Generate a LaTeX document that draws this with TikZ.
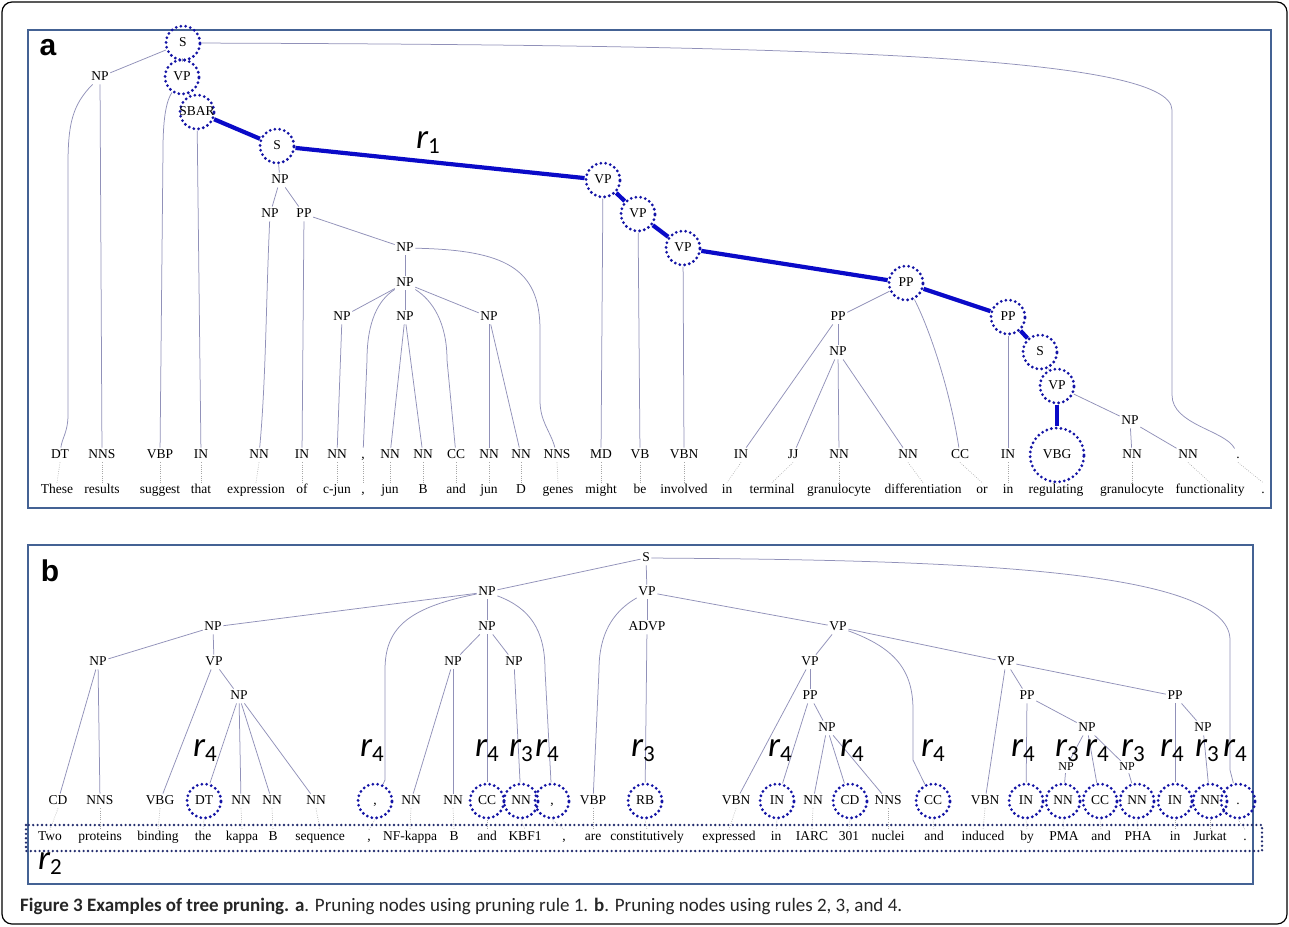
\documentclass[tikz,border=0pt]{standalone}
\usepackage{fontspec}
\setmainfont{Liberation Serif}
\newfontfamily\capfont{Carlito}
\newfontfamily\panelfont{Liberation Sans}

\definecolor{linecol}{RGB}{145,145,185}
\definecolor{pathcol}{RGB}{10,10,200}
\definecolor{prunecol}{RGB}{20,20,165}
\definecolor{panelcol}{RGB}{68,98,148}
\definecolor{boxcol}{RGB}{35,45,110}

\newcommand{\rlab}[1]{{\fontsize{35}{35}\selectfont\itshape r}\raisebox{-5pt}{\fontsize{23}{23}\selectfont #1}}

\begin{document}
\begin{tikzpicture}[x = 1pt, y = -1pt,
	lbl/.style = {inner sep = 1.5pt, text height = 9pt, text depth = 2.5pt, font = \fontsize{13.5}{14}\selectfont},
	small/.style = {inner sep = 1pt, text height = 8pt, text depth = 2pt, font = \fontsize{12}{13}\selectfont},
	pruned/.style = {lbl, circle, inner sep = 0pt, minimum size = 34pt, draw = prunecol, line width = 3.1pt, dash pattern = on 0pt off 4.8pt, line cap = round},
	bigpruned/.style = {pruned, minimum size = 54pt},
	tline/.style = {draw = linecol, line width = 0.75pt},
	rpath/.style = {draw = pathcol, line width = 4.2pt},
	wline/.style = {draw = gray!70, line width = 0.6pt, dash pattern = on 0.7pt off 1.5pt},
	panel/.style = {draw = panelcol, line width = 1.6pt},
	rmark/.style = {inner sep = 0pt, font = \capfont}]

	% Frame and panels

		\path[fill = white] (0, 0) rectangle (1289, 926);
		\draw[line width = 1.2pt, rounded corners = 10pt] (2, 2) rectangle (1287, 924);
		\draw[panel] (28, 30) rectangle (1271, 508);
		\draw[panel] (28, 545) rectangle (1253, 884);

		\node (la) [font = \panelfont\bfseries\fontsize{30}{30}\selectfont] at (48, 48) {a};
		\node (lb) [font = \panelfont\bfseries\fontsize{30}{30}\selectfont] at (50, 571) {b};

	% Panel a

		% Phrase nodes

		\node (as1) [pruned] at (183, 43) {S};
		\node (anp1) [lbl] at (100, 77) {NP};
		\node (avp1) [pruned] at (182, 77) {VP};
		\node (asbar) [pruned] at (197, 112) {\makebox[16pt]{SBAR}};
		\node (as2) [pruned] at (277, 146) {S};
		\node (anp2) [lbl] at (280, 180) {NP};
		\node (anp3) [lbl] at (270, 214) {NP};
		\node (app1) [lbl] at (304, 214) {PP};
		\node (anp4) [lbl] at (405, 248) {NP};
		\node (anp5) [lbl] at (405, 283) {NP};
		\node (anp6) [lbl] at (342, 317) {NP};
		\node (anp7) [lbl] at (405, 317) {NP};
		\node (anp8) [lbl] at (489, 317) {NP};
		\node (avp2) [pruned] at (603, 180) {VP};
		\node (avp3) [pruned] at (638, 214) {VP};
		\node (avp4) [pruned] at (683, 248) {VP};
		\node (app2) [pruned] at (906, 283) {PP};
		\node (app3) [lbl] at (838, 317) {PP};
		\node (anp9) [lbl] at (838, 352) {NP};
		\node (app4) [pruned] at (1008, 317) {PP};
		\node (as3) [pruned] at (1040, 352) {S};
		\node (avp5) [pruned] at (1057, 386) {VP};
		\node (anp10) [lbl] at (1130, 421) {NP};

		% Tags and words

		\foreach \x/\t/\s [count = \n] in {60/DT/lbl, 102/NNS/lbl, 160/VBP/lbl, 201/IN/lbl, 259/NN/lbl, 302/IN/lbl, 337/NN/lbl, 363/{,}/lbl, 390/NN/lbl, 423/NN/lbl, 456/CC/lbl, 489/NN/lbl, 521/NN/lbl, 557/NNS/lbl, 601/MD/lbl, 640/VB/lbl, 684/VBN/lbl, 741/IN/lbl, 793/JJ/lbl, 839/NN/lbl, 908/NN/lbl, 960/CC/lbl, 1008/IN/lbl, 1057/VBG/bigpruned, 1132/NN/lbl, 1188/NN/lbl, 1238/./lbl}
			\node (at\n) [\s] at (\x, 455) {\t};

		\foreach \x/\w [count = \n] in {57/These, 102/results, 160/suggest, 201/that, 256/expression, 302/of, 337/c-jun, 363/{,}, 390/jun, 423/B, 456/and, 489/jun, 521/D, 558/genes, 601/might, 640/be, 684/involved, 727/in, 772/terminal, 839/granulocyte, 923/differentiation, 982/or, 1008/in, 1056/regulating, 1132/granulocyte, 1210/functionality, 1263/.}
			\node (aw\n) [lbl] at (\x, 490) {\w};

		\foreach \n in {1, ..., 27}
			\draw[wline] (at\n.south) -- (aw\n.north);

		% Edges

		\foreach \p/\c in {as1/anp1, as1/avp1, anp1/at2, avp1/asbar, asbar/at4, as2/anp2, anp2/anp3, anp2/app1, app1/at6, app1/anp4, anp4/anp5, anp5/anp6, anp5/anp7, anp5/anp8, anp6/at7, anp7/at9, anp7/at10, anp8/at12, anp8/at13, avp2/at15, avp3/at16, avp4/at17, app2/app3, app3/at18, app3/anp9, anp9/at19, anp9/at20, anp9/at21, app4/at23, as3/avp5, avp5/anp10, anp10/at25, anp10/at26}
			\draw[tline] (\p) -- (\c);

		\draw[tline] (anp1) .. controls (72, 105) and (68, 125) .. (68, 165) -- (68, 415) .. controls (68, 432) and (62, 438) .. (at1);
		\draw[tline] (avp1) .. controls (167, 100) and (163, 115) .. (163, 150) -- (at3);
		\draw[tline] (anp3) .. controls (266, 300) and (266, 380) .. (at5);
		\draw[tline] (anp4) .. controls (505, 250) and (540, 268) .. (540, 330) -- (540, 400) .. controls (540, 422) and (550, 430) .. (at14);
		\draw[tline] (anp5) .. controls (378, 300) and (367, 322) .. (367, 360) -- (at8);
		\draw[tline] (anp5) .. controls (432, 300) and (447, 322) .. (447, 360) -- (at11);
		\draw[tline] (app2) .. controls (930, 330) and (950, 390) .. (at22);
		\draw[tline] (as1) .. controls (800, 45) and (1172, 55) .. (1172, 110) -- (1172, 395) .. controls (1172, 425) and (1225, 430) .. (at27);

		% Pruning path of rule 1

		\foreach \p/\c in {asbar/as2, as2/avp2, avp2/avp3, avp3/avp4, avp4/app2, app2/app4, app4/as3, avp5/at24}
			\draw[rpath] (\p) -- (\c);

		\node (r1) [rmark] at (428, 143) {\rlab{1}};

	% Panel b

		% Phrase nodes

		\node (bs) [lbl] at (646, 558) {S};
		\node (bnp1) [lbl] at (487, 592) {NP};
		\node (bvp1) [lbl] at (647, 592) {VP};
		\node (bnp2) [lbl] at (213, 627) {NP};
		\node (bnp3) [lbl] at (487, 627) {NP};
		\node (badvp) [lbl] at (647, 627) {ADVP};
		\node (bvp2) [lbl] at (838, 627) {VP};
		\node (bnp4) [lbl] at (98, 662) {NP};
		\node (bvp3) [lbl] at (214, 662) {VP};
		\node (bnp5) [lbl] at (453, 662) {NP};
		\node (bnp6) [lbl] at (514, 662) {NP};
		\node (bvp4) [lbl] at (810, 662) {VP};
		\node (bvp5) [lbl] at (1006, 662) {VP};
		\node (bnp7) [lbl] at (239, 696) {NP};
		\node (bpp1) [lbl] at (810, 696) {PP};
		\node (bpp2) [lbl] at (1027, 696) {PP};
		\node (bpp3) [lbl] at (1175, 696) {PP};
		\node (bnp8) [lbl] at (827, 728) {NP};
		\node (bnp9) [lbl] at (1087, 728) {NP};
		\node (bnp10) [lbl] at (1203, 728) {NP};
		\node (bnp11) [small] at (1066, 767) {NP};
		\node (bnp12) [small] at (1127, 767) {NP};

		% Tags and words

		\foreach \x/\t/\s [count = \n] in {58/CD/lbl, 100/NNS/lbl, 160/VBG/lbl, 204/DT/pruned, 241/NN/lbl, 272/NN/lbl, 316/NN/lbl, 375/{,}/pruned, 411/NN/lbl, 453/NN/lbl, 487/CC/pruned, 521/NN/pruned, 552/{,}/pruned, 593/VBP/lbl, 645/RB/pruned, 736/VBN/lbl, 777/IN/pruned, 813/NN/lbl, 850/CD/pruned, 888/NNS/lbl, 933/CC/pruned, 985/VBN/lbl, 1026/IN/pruned, 1063/NN/pruned, 1100/CC/pruned, 1137/NN/pruned, 1175/IN/pruned, 1210/NN/pruned, 1238/./pruned}
			\node (bt\n) [\s] at (\x, 801) {\t};

		\foreach \x/\w [count = \n] in {50/Two, 100/proteins, 158/binding, 203/the, 242/kappa, 273/B, 320/sequence, 369/{,}, 410/NF-kappa, 454/B, 487/and, 525/KBF1, 564/{,}, 593/are, 647/constitutively, 729/expressed, 776/in, 812/IARC, 849/301, 888/nuclei, 934/and, 983/induced, 1027/by, 1064/PMA, 1101/and, 1138/PHA, 1175/in, 1210/Jurkat, 1245/.}
			\node (bw\n) [lbl] at (\x, 837) {\w};

		\foreach \n in {1, ..., 29}
			\draw[wline] (bt\n.south) -- (bw\n.north);

		% Edges

		\foreach \p/\c in {bs/bnp1, bs/bvp1, bnp1/bnp2, bnp1/bnp3, bnp2/bnp4, bnp2/bvp3, bnp4/bt1, bnp4/bt2, bvp3/bt3, bvp3/bnp7, bnp7/bt4, bnp7/bt5, bnp7/bt6, bnp7/bt7, bnp3/bnp5, bnp3/bnp6, bnp3/bt11, bnp5/bt9, bnp5/bt10, bnp6/bt12, bvp1/badvp, bvp1/bvp2, badvp/bt15, bvp2/bvp4, bvp2/bvp5, bvp4/bt16, bvp4/bpp1, bpp1/bt17, bpp1/bnp8, bnp8/bt18, bnp8/bt19, bnp8/bt20, bvp5/bt22, bvp5/bpp2, bvp5/bpp3, bpp2/bt23, bpp2/bnp9, bnp9/bnp11, bnp9/bt25, bnp9/bnp12, bnp11/bt24, bnp12/bt26, bpp3/bt27, bpp3/bnp10, bnp10/bt28}
			\draw[tline] (\p) -- (\c);

		\draw[tline] (bs) .. controls (950, 560) and (1230, 568) .. (1230, 640) -- (1230, 770) -- (bt29);
		\draw[tline] (bnp1) .. controls (405, 608) and (385, 630) .. (385, 670) -- (385, 780) -- (bt8);
		\draw[tline] (bnp1) .. controls (530, 608) and (545, 630) .. (545, 670) -- (bt13);
		\draw[tline] (bvp1) .. controls (612, 612) and (599, 635) .. (599, 670) -- (bt14);
		\draw[tline] (bvp2) .. controls (895, 648) and (913, 670) .. (913, 710) -- (913, 760) -- (bt21);

		% Rule marks

		\foreach \x/\k [count = \n] in {205/4, 372/4, 487/4, 521/3, 547/4, 643/3, 780/4, 852/4, 933/4, 1023/4, 1067/3, 1097/4, 1133/3, 1172/4, 1207/3, 1235/4}
			\node (rb\n) [rmark] at (\x, 751) {\rlab{\k}};

		\draw[draw = boxcol, line width = 2.6pt, dash pattern = on 0pt off 4.4pt, line cap = round] (26, 825) rectangle (1262, 851);
		\node (r2) [rmark] at (50, 864) {\rlab{2}};

	% Caption

	\node (caption) [anchor = west, inner sep = 0pt, text = black!85, font = \capfont\fontsize{19}{21}\selectfont] at (20, 906) {\textbf{Figure 3 Examples of tree pruning. a}. Pruning nodes using pruning rule 1. \textbf{b}. Pruning nodes using rules 2, 3, and 4.};

\end{tikzpicture}
\end{document}
